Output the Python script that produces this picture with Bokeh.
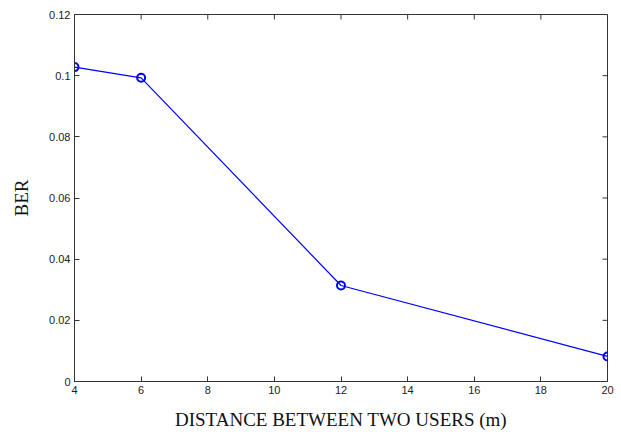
import math

from bokeh.plotting import figure
from bokeh.models import Range1d, FixedTicker
from bokeh.embed import file_html
from bokeh.resources import INLINE

# BER measured at each separation between the two users
distance_m = [4, 6, 12, 20]
ber = [0.1028, 0.0993, 0.0314, 0.0082]

x_ticks = [4, 6, 8, 10, 12, 14, 16, 18, 20]
y_ticks = [0, 0.02, 0.04, 0.06, 0.08, 0.1, 0.12]
y_tick_labels = {0: "0", 0.02: "0.02", 0.04: "0.04", 0.06: "0.06",
                 0.08: "0.08", 0.1: "0.1", 0.12: "0.12"}

X_MIN, X_MAX = 4, 20
Y_MIN, Y_MAX = 0, 0.12

AXIS_COLOR = "#333333"
TICK_FONT = "Liberation Sans"
LABEL_FONT = "Liberation Serif"
TICK_LEN = 5

p = figure(width=621, height=432, output_backend="svg", toolbar_location=None,
           x_range=Range1d(X_MIN, X_MAX), y_range=Range1d(Y_MIN, Y_MAX),
           x_axis_label="DISTANCE BETWEEN TWO USERS (m)", y_axis_label="BER")
p.min_border_left = 74
p.min_border_right = 14
p.min_border_top = 14
p.min_border_bottom = 51
p.background_fill_color = "white"
p.border_fill_color = "white"
p.outline_line_color = AXIS_COLOR
p.outline_line_width = 1
p.xgrid.visible = False
p.ygrid.visible = False

p.xaxis.ticker = FixedTicker(ticks=x_ticks)
p.yaxis.ticker = FixedTicker(ticks=y_ticks)
p.yaxis.major_label_overrides = y_tick_labels

for ax in (p.xaxis[0], p.yaxis[0]):
    ax.axis_line_color = AXIS_COLOR
    ax.major_tick_line_color = AXIS_COLOR
    ax.major_tick_in = TICK_LEN
    ax.major_tick_out = 0
    ax.minor_tick_line_color = None
    ax.major_label_text_font = TICK_FONT
    ax.major_label_text_font_size = "11px"
    ax.major_label_text_color = "#222222"
    ax.axis_label_text_font = LABEL_FONT
    ax.axis_label_text_font_size = "19px"
    ax.axis_label_text_font_style = "normal"
    ax.axis_label_text_color = "#111111"

p.xaxis.major_label_standoff = 4
p.yaxis.major_label_standoff = 4
p.xaxis.axis_label_standoff = 12
p.yaxis.axis_label_standoff = 14

# inward ticks mirrored on the top and right edges of the box
p.ray(x=x_ticks, y=[Y_MAX] * len(x_ticks), length=TICK_LEN, length_units="screen",
      angle=-math.pi / 2, line_color=AXIS_COLOR, line_width=1)
p.ray(x=[X_MAX] * len(y_ticks), y=y_ticks, length=TICK_LEN, length_units="screen",
      angle=math.pi, line_color=AXIS_COLOR, line_width=1)

p.line(distance_m, ber, line_color="#0000ff", line_width=1.2)
p.scatter(distance_m, ber, marker="circle", size=8, fill_color=None,
          line_color="#0000ff", line_width=2)

open("out.html", "w").write(file_html(p, INLINE))
